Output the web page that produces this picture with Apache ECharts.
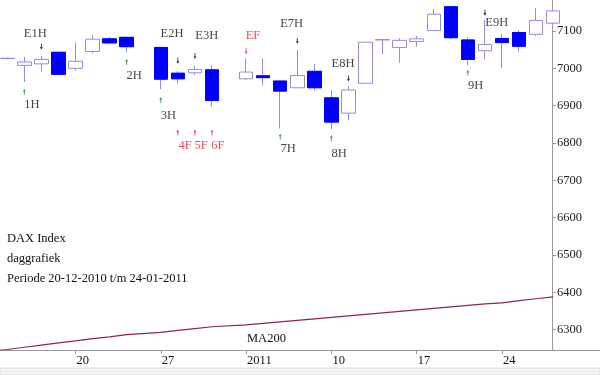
<!DOCTYPE html>
<html><head><meta charset="utf-8">
<script src="https://cdn.jsdelivr.net/npm/echarts@6/dist/echarts.min.js"></script>
<style>html,body{margin:0;padding:0;background:#fff}#c{width:600px;height:375px}</style>
</head><body><div id="c"></div>
<script>
// Slot index on the trading-day axis: 0 = 14 Dec 2010 ... 32 = 27 Jan 2011
// (slots 8 = 24 Dec and 13 = 31 Dec are exchange holidays without data)
const dayIdx = [0,1,2,3,4,5,6,7,9,10,11,12,14,15,16,17,18,19,20,21,22,23,24,25,26,27,28,29,30,31,32];
const opens  = [7026,7008,7012,7043,7000,7045,7079,7083,7056,6987,6988,6996,6972,6980,6966,6948,6992,6921,6880,6960,7076,7056,7072,7101,7165,7076,7047,7080,7096,7091,7121];
const closes = [7027,7017,7024,6984,7019,7078,7068,7058,6971,6972,6997,6914,6990,6975,6939,6981,6948,6856,6942,7070,7077,7075,7079,7145,7082,7024,7064,7069,7059,7128,7154];
const lows   = [7024,6963,6991,6983,6994,7040,7067,7043,6944,6960,6982,6897,6969,6954,6839,6947,6940,6837,6862,6959,7038,7015,7058,7100,7078,7008,7024,7000,7045,7087,7118];
const highs  = [7029,7030,7033,7044,7069,7089,7084,7085,7057,6993,7007,7009,7027,7027,6967,7049,7012,6942,6953,7071,7079,7081,7087,7159,7166,7083,7130,7092,7103,7161,7160];

// 200-day moving average (slot index, value)
const maIdx = [-1,0,1,2,3,4,5,6,7,9,10,11,12,14,15,16,17,18,19,20,21,22,23,24,25,26,27,28,29,30,31,32];
const maVal = [6242,6247,6253,6259,6265,6270,6276,6281,6287,6293,6298,6303,6308,6313,6317,6321,6325,6329,6333,6337,6341,6345,6349,6353,6357,6361,6365,6369,6372,6378,6383,6388];

// Signal annotations
const noteLabels = ['E1H','1H','2H','E2H','3H','4F','E3H','5F','6F','EF','E7H','7H','E8H','8H','9H','E9H'];
const noteAt     = [2,1,7,10,9,10,11,11,12,14,17,16,20,19,27,28];
const arrowVals  = [7058,6937,7017,7020,6915,6828,7033,6828,6828,7046,7074,6817,6973,6813,6988,7149];
const textX      = [1.64,1.45,7.43,9.66,9.45,10.42,11.69,11.36,12.35,14.40,16.67,16.46,19.68,19.45,27.45,28.69];
const textVals   = [7092,6902,6980,7092,6872,6792,7087,6792,6792,7087,7119,6784,7012,6771,6953,7121];

// Axis ticks
const xTickIdx = [4,9,14,19,24,29];
const xTickLabels = ['20','27','2011','10','17','24'];
const yTicks = [6300,6400,6500,6600,6700,6800,6900,7000,7100];

const FONT = 'Liberation Serif';
const BLUE = '#0000ff', LAV = '#8f8fd8', RED = '#d4203a', GREEN = '#1f7f3f';

const candleData = dayIdx.map((d,i)=>[d, opens[i], closes[i], lows[i], highs[i]]);
const downBodies = dayIdx.map((d,i)=>[d, opens[i], closes[i], Math.min(opens[i],closes[i]), Math.max(opens[i],closes[i])])
  .filter((r,i)=>closes[i] < opens[i]);
const maData = maIdx.map((d,i)=>[d, maVal[i]]);

const isF = s => s.indexOf('F') >= 0;
const isE = s => s[0] === 'E';
const arrowColor = s => isF(s) ? RED : (isE(s) ? '#000' : GREEN);
const textColor = s => isF(s) ? RED : '#111';

const arrowData = noteLabels.map((s,i)=>({
  value:[noteAt[i], arrowVals[i]],
  symbolRotate: isE(s) ? 180 : 0,
  itemStyle:{color: arrowColor(s)}
}));
const textData = noteLabels.map((s,i)=>({
  value:[textX[i], textVals[i]], name:s,
  label:{color: textColor(s)}
}));

const chart = echarts.init(document.getElementById('c'), null, {renderer:'canvas'});
chart.setOption({
  animation:false,
  backgroundColor:'#fff',
  title:[
    {text:'DAX Index\ndaggrafiek\nPeriode 20-12-2010 t/m 24-01-2011', left:7, top:229, padding:0,
     textStyle:{fontFamily:FONT, fontSize:12.5, fontWeight:'normal', color:'#111', lineHeight:20}},
    {text:'MA200', left:247, top:332, padding:0,
     textStyle:{fontFamily:FONT, fontSize:12.5, fontWeight:'normal', color:'#111', lineHeight:14}}
  ],
  grid:{left:0, top:0, right:48, bottom:25, containLabel:false, outerBoundsMode:'none'},
  xAxis:{
    type:'value', min:-0.4256, max:31.93,
    splitLine:{show:false},
    axisLine:{onZero:false, lineStyle:{color:'#9a9a9a'}},
    axisTick:{customValues:xTickIdx, length:4, lineStyle:{color:'#9a9a9a'}},
    axisLabel:{customValues:xTickIdx, align:'left', margin:4, padding:[0,0,0,1],
      formatter:v=>{const k=xTickIdx.indexOf(Math.round(v)); return k>=0?xTickLabels[k]:'';},
      fontFamily:FONT, fontSize:12.5, color:'#111'}
  },
  yAxis:{
    type:'value', position:'right', min:6245.7, max:7183, scale:true,
    splitLine:{show:false},
    axisLine:{show:true, onZero:false, lineStyle:{color:'#9a9a9a'}},
    axisTick:{show:true, customValues:yTicks, length:4, lineStyle:{color:'#9a9a9a'}},
    axisLabel:{customValues:yTicks, margin:5, formatter:v=>String(Math.round(v)),
      fontFamily:FONT, fontSize:12.5, color:'#222'}
  },
  series:[
    {type:'line', data:maData, symbol:'none', clip:true,
     lineStyle:{color:'#8a2a40', width:1.2}, z:2},
    {type:'candlestick', data:candleData, barWidth:14, clip:true,
     itemStyle:{color:'#ffffff', color0:BLUE, borderColor:LAV, borderColor0:LAV, borderWidth:1}, z:3},
    {type:'candlestick', data:downBodies, barWidth:14, clip:true,
     itemStyle:{color:BLUE, color0:BLUE, borderColor:BLUE, borderColor0:BLUE, borderWidth:1}, z:4},
    {type:'scatter', data:arrowData, symbol:'path://M2,0 L4,3 L2.6,3 L2.6,7 L1.4,7 L1.4,3 L0,3 Z',
     symbolSize:[3,6], z:5},
    {type:'scatter', data:textData, symbolSize:1, itemStyle:{color:'rgba(0,0,0,0)'},
     label:{show:true, position:'inside', formatter:p=>p.name, fontFamily:FONT, fontSize:12.5}, z:6}
  ],
  graphic:[
    {type:'line', shape:{x1:552, y1:350.5, x2:600, y2:350.5}, style:{stroke:'#9a9a9a', lineWidth:1}, silent:true},
    {type:'rect', shape:{x:0, y:368, width:600, height:7}, style:{fill:'#f2f2f2', stroke:'#dcdcdc'}, silent:true}
  ]
});
</script></body></html>
